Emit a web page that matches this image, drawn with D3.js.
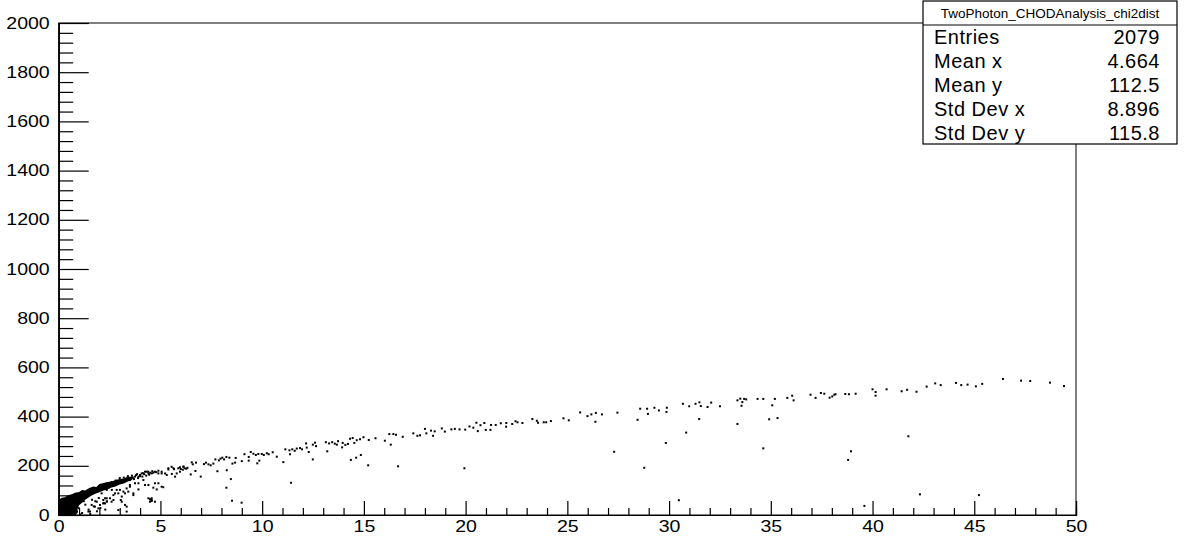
<!DOCTYPE html>
<html><head><meta charset="utf-8">
<script src="https://cdn.jsdelivr.net/npm/d3@7"></script>
<style>
html,body{margin:0;padding:0;background:#fff;}
svg{display:block;font-family:"Liberation Sans",Arial,Helvetica,sans-serif;}
</style></head>
<body><svg id="c" width="1188" height="541"></svg>
<script>
// ---- data ----
const histTitle = "TwoPhoton_CHODAnalysis_chi2dist";
const statLabels = ["Entries","Mean x","Mean y","Std Dev x","Std Dev y"];
const statValues = ["2079","4.664","112.5","8.896","115.8"];
const xMajorTicks = [0,5,10,15,20,25,30,35,40,45,50];
const yMajorTicks = [0,200,400,600,800,1000,1200,1400,1600,1800,2000];
const xDomain = [0,50];
const yDomain = [0,2000];

// dense core of the distribution (solid black region)
const coreOutline = [[0,62],[0.15,70],[0.3,72],[0.45,80],[0.65,84],[0.8,90],[1.0,94],[1.15,102],[1.3,100],[1.5,110],[1.7,116],[1.85,114],[2.0,126],[2.2,130],[2.4,134],[2.6,136],[2.8,142],[3.0,146],[3.2,148],[3.4,154],[3.6,156],
  [3.6,142],[3.4,136],[3.2,128],[3.0,124],[2.8,116],[2.6,112],[2.4,104],[2.2,100],[2.0,92],[1.8,86],[1.6,78],[1.45,70],[1.3,62],[1.15,50],[1.0,40],[0.92,24],[0.95,12],[0.85,0],[0,0]];

// ridge points (upper band)
const ridgeDots = [
 [1.95,102],[2.03,115],[2.19,108],[2.28,122],[2.44,115],[2.52,129],[2.69,122],[2.77,129],[2.93,136],[3.1,142],[3.18,136],[3.34,149],[3.5,142],[3.59,149],[3.75,156],[3.92,156],[4.0,163],[4.08,169],[4.24,176],[4.32,176],[4.41,169],[4.57,169],[4.65,172],[4.73,176],[4.9,169],[4.9,180],[5.06,176],[5.06,169],[5.23,169],[5.39,190],[5.39,185],[5.55,196],[5.64,190],[5.67,186],[5.88,190],[5.96,176],[5.96,194],[6.13,196],[6.13,197],
 [2.6,134],[2.8,140],[3.0,150],[3.2,152],[3.4,158],[3.6,160],[3.8,162],[4.0,158],[4.2,166],[4.3,160],[3.7,146],[3.3,140],[2.9,128],[3.9,150],[4.4,176],[4.5,172],[4.6,178],[4.8,174],[3.85,166],[4.15,170],[3.65,152],[4.45,164],
 [6.0,187],[6.1,184],[6.19,190],[6.27,188],[6.33,192],[6.54,214],[6.59,206],[6.75,213],[7.14,207],[7.24,213],[7.36,206],[7.47,202],[7.6,209],[7.7,226],[7.87,222],[7.95,229],[8.04,233],[8.13,226],[8.24,236],[8.39,233],[8.54,209],[8.67,213],[8.7,232],[9.0,219],[9.13,247],[9.34,236],[9.34,221],[9.44,256],[9.57,249],[9.69,244],[9.81,248],[9.86,221],[9.98,248],[10.08,244],[10.23,251],[10.32,247],[10.52,255],[10.72,237],[11.14,267],[11.34,263],[11.37,247],[11.48,267],[11.6,261],[11.7,270],[11.86,272],[11.96,267],[12.16,291],[12.19,274],[12.29,256],[12.49,286],[12.6,294],[12.65,280],[13.13,296],[13.2,259],[13.29,291],[13.44,296],[13.57,290],[13.67,286],[13.73,300],[13.93,275],[13.96,293],[14.09,285],[14.22,289],[14.32,310],[14.45,313],[14.53,293],[14.65,304],[14.81,308],[14.98,316],[15.24,305],[15.57,312],[16.03,302],[16.25,329],[16.32,286],[16.45,329],[16.58,326],[16.91,318],[17.43,332],[17.63,322],
 [17.76,324],[18.0,350],[18.07,332],[18.3,343],[18.4,322],[18.48,340],[18.83,352],[18.98,339],[19.3,348],[19.47,350],[19.7,348],[19.98,347],[20.19,360],[20.38,355],[20.53,375],[20.6,341],[20.73,365],[20.92,374],[20.99,346],[21.22,346],[21.25,366],[21.48,366],[21.73,373],[21.99,359],[22.0,374],[22.29,370],[22.45,381],[22.55,377],[22.79,374],[23.28,390],[23.5,383],[23.56,375],[23.84,377],[23.96,377],[24.19,382],[24.81,393],[25.07,385],[25.63,417],[25.99,402],[26.18,409],[26.4,415],[26.7,409],[26.38,379],[27.46,416],[28.45,387],[28.58,432],[28.92,432],[28.96,411],[29.28,436],[29.5,425],
 [29.89,436],[29.87,419],[30.68,452],[30.99,442],[31.3,452],[31.49,458],[31.56,443],[31.89,439],[32.07,457],[32.5,442],[33.36,466],[33.5,473],[33.6,459],[33.56,444],[33.69,472],[33.79,470],[34.35,472],[34.63,472],[35.2,472],[35.07,446],[35.81,476],[36.05,485],[36.12,466],[36.95,489],[37.2,476],[37.46,496],[37.63,493],[37.89,477],[38.02,482],[38.12,489],[38.18,491],[38.66,492],[38.84,491],[39.17,493],
 [40.0,511],[40.15,500],[40.15,485],[40.69,511],[41.43,503],[41.7,509],[42.16,501],[42.66,522],[43.08,535],[43.35,528],[44.1,537],[44.36,528],[44.67,530],[45.08,523],[45.39,533],[46.41,553],[47.3,546],[47.75,545],[48.72,538],[49.41,524]
];

// points below the ridge
const lowDots = [
 [0.98,28],[1.15,8],[1.31,42],[1.47,22],[1.55,4],[1.72,35],[1.88,15],[2.05,28],[2.21,49],[2.29,22],[2.37,56],[1.06,2],[1.23,56],[1.64,62],[1.8,56],[1.97,69],
 [1.46,14],[1.54,14],[1.62,41],[1.78,34],[1.87,54],[1.95,27],[2.03,41],[2.11,88],[2.19,47],[2.19,61],[2.28,47],[2.28,68],[2.36,54],[2.36,68],[2.36,102],[2.52,68],[2.6,54],[2.61,102],[2.69,81],[2.69,61],[2.77,88],[2.85,102],[2.93,88],[2.93,20],[3.01,102],[3.05,61],[3.1,75],[3.1,54],[3.18,95],[3.26,88],[3.26,41],[3.34,108],[3.34,34],[3.34,14],[3.42,95],[3.5,115],[3.5,122],[3.67,88],[3.67,81],[3.75,129],[3.92,129],[3.92,104],[4.11,156],[4.16,142],[4.24,122],[4.41,122],[4.41,68],[4.49,54],[4.49,64],[4.57,68],[4.57,57],[4.57,61],[4.65,111],[4.73,129],[4.73,54],[4.82,104],[4.9,129],[5.06,115],[5.14,113],[5.31,163],[5.56,167],[5.72,156],[5.8,169],
 [6.72,179],[6.49,165],[6.98,156],[7.8,178],[8.26,182],[8.46,146],[8.24,111],[9.76,210],[11.04,215],[12.49,226],[11.42,131],[8.52,58],[8.99,50],[14.36,224],[14.62,233],[14.85,244],[15.21,202],[16.68,198],
 [19.94,190],[27.3,257],[28.78,192],
 [31.48,390],[33.36,370],[34.92,389],[35.33,394],[30.84,335],[29.84,293],[34.63,271],[38.94,259],[38.8,224],[30.48,60],
 [41.76,320],[42.33,84],[45.23,81],[39.6,37]
];

// ---- drawing ----
const svg = d3.select("#c");
const L = 58.7, R = 1076, T = 23, B = 515;
const x = d3.scaleLinear().domain(xDomain).range([L, R]);
const y = d3.scaleLinear().domain(yDomain).range([B, T]);

// frame
svg.append("rect").attr("x", L).attr("y", T).attr("width", R - L).attr("height", B - T)
  .attr("fill", "none").attr("stroke", "#000").attr("stroke-width", 1);

// core region
svg.append("path").datum(coreOutline)
  .attr("d", d3.line().x(d => x(d[0])).y(d => y(d[1])))
  .attr("fill", "#000").attr("stroke", "none");

const allDots = ridgeDots.concat(lowDots);
svg.append("g").selectAll("rect").data(allDots).join("rect")
  .attr("x", d => x(d[0]) - 1).attr("y", d => y(d[1]) - 1)
  .attr("width", 2).attr("height", 2).attr("fill", "#000");

// axes
const xMinor = d3.range(0, 51, 1).filter(v => v % 5 !== 0);
const yMinor = d3.range(0, 2001, 40).filter(v => v % 200 !== 0);
const SX = 1.22;

const gx = svg.append("g").attr("transform", `translate(0,${B})`)
  .call(d3.axisBottom(x).tickValues(xMajorTicks).tickSize(-14).tickPadding(6).tickFormat(d3.format("d")));
const gxm = svg.append("g").attr("transform", `translate(0,${B})`)
  .call(d3.axisBottom(x).tickValues(xMinor).tickSize(-7).tickFormat(""));
const gy = svg.append("g").attr("transform", `translate(${L},0)`)
  .call(d3.axisLeft(y).tickValues(yMajorTicks).tickSize(-30).tickPadding(9).tickFormat(d3.format("d")));
const gym = svg.append("g").attr("transform", `translate(${L},0)`)
  .call(d3.axisLeft(y).tickValues(yMinor).tickSize(-14.5).tickFormat(""));

[gx, gxm, gy, gym].forEach(g => {
  g.select(".domain").attr("stroke", "#000").attr("stroke-width", 1.2);
  g.selectAll(".tick line").attr("stroke", "#000").attr("stroke-width", 1.2);
  g.selectAll("text").attr("fill", "#000").attr("font-size", 16)
    .attr("font-family", '"Liberation Sans",Arial,sans-serif');
});
gx.selectAll(".tick text").attr("transform", `scale(${SX},1)`);
gy.selectAll(".tick text").attr("x", -9 / SX).attr("transform", `scale(${SX},1)`);

// stats box
const bx = 923, by = 1, bw = 254, bh = 143;
const st = svg.append("g");
st.append("rect").attr("x", bx).attr("y", by).attr("width", bw).attr("height", bh)
  .attr("fill", "#fff").attr("stroke", "#000").attr("stroke-width", 1.2);
st.append("line").attr("x1", bx).attr("x2", bx + bw).attr("y1", 25).attr("y2", 25)
  .attr("stroke", "#000").attr("stroke-width", 1.2);
st.append("text").attr("x", bx + bw / 2).attr("y", 18.3).attr("text-anchor", "middle")
  .attr("font-size", 13.5).text(histTitle);
statLabels.forEach((lab, i) => {
  const yy = 44.3 + i * 24;
  st.append("text").attr("x", 934).attr("y", yy).attr("font-size", 20)
    .attr("letter-spacing", 0.5).text(lab);
  st.append("text").attr("x", 1160).attr("y", yy).attr("text-anchor", "end")
    .attr("font-size", 20).attr("letter-spacing", 0.5).text(statValues[i]);
});
</script></body></html>
